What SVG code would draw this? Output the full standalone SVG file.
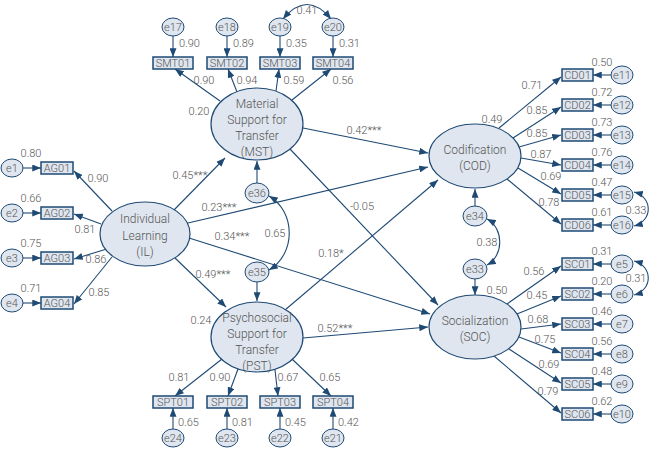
<svg xmlns="http://www.w3.org/2000/svg" width="650" height="450" viewBox="0 0 650 450">
<defs>
<marker id="ah" viewBox="0 0 10 8" refX="10" refY="4" markerWidth="9" markerHeight="7" markerUnits="userSpaceOnUse" orient="auto-start-reverse">
<path d="M0,0 L10,4 L0,8 z" fill="#1f4a74"/>
</marker>
<style>
.lat{fill:#dfe6ef;stroke:#1f4a74;stroke-width:1.2}
.err{fill:#dfe6ef;stroke:#1f4a74;stroke-width:1}
.box{fill:#dfe6ef;stroke:#1f4a74;stroke-width:1.5}
.t{font-family:Roboto,"Liberation Sans",sans-serif;font-size:11px;fill:#555;text-anchor:middle;font-weight:300}
.tl{font-family:Roboto,"Liberation Sans",sans-serif;font-size:12px;fill:#555;text-anchor:middle;font-weight:300}
.ts{font-family:Roboto,"Liberation Sans",sans-serif;font-size:11px;fill:#555;text-anchor:start;font-weight:300}
.c line,.c path{stroke:#1f4a74;stroke-width:1.1;fill:none;marker-end:url(#ah)}
.c path.cov{marker-start:url(#ah)}
</style>
</defs>
<rect width="650" height="450" fill="#fff"/>

<g id="connectors" class="c">
<!-- e -> AG -->
<line x1="23" y1="168" x2="41" y2="168"/>
<line x1="23" y1="213" x2="41" y2="213"/>
<line x1="23" y1="258" x2="41" y2="258"/>
<line x1="23" y1="303" x2="41" y2="303"/>
<!-- IL -> AG -->
<line x1="112" y1="211" x2="74" y2="171"/>
<line x1="101" y1="224" x2="74" y2="214"/>
<line x1="110" y1="248" x2="74" y2="259"/>
<line x1="112" y1="257" x2="74" y2="304"/>
<!-- e -> SMT -->
<line x1="173" y1="36" x2="173" y2="57"/>
<line x1="227" y1="36" x2="227" y2="57"/>
<line x1="280" y1="36" x2="280" y2="57"/>
<line x1="333" y1="36" x2="333" y2="57"/>
<!-- MST -> SMT -->
<line x1="220" y1="101" x2="175" y2="69"/>
<line x1="237" y1="92" x2="228" y2="69"/>
<line x1="276" y1="91" x2="279" y2="69"/>
<line x1="292" y1="100" x2="331" y2="69"/>
<path class="cov" d="M283,19 Q307,-10 331,19"/>
<!-- e -> SPT -->
<line x1="173" y1="429" x2="173" y2="408"/>
<line x1="227" y1="429" x2="227" y2="408"/>
<line x1="280" y1="429" x2="280" y2="408"/>
<line x1="333" y1="429" x2="333" y2="408"/>
<!-- PST -> SPT -->
<line x1="222" y1="359" x2="175" y2="396"/>
<line x1="238" y1="369" x2="228" y2="396"/>
<line x1="275" y1="370" x2="278" y2="396"/>
<line x1="292" y1="359" x2="331" y2="396"/>
<!-- e -> CD -->
<line x1="611" y1="75" x2="593" y2="75"/>
<line x1="611" y1="105" x2="593" y2="105"/>
<line x1="611" y1="135" x2="593" y2="135"/>
<line x1="611" y1="165" x2="593" y2="165"/>
<line x1="611" y1="195" x2="593" y2="195"/>
<line x1="611" y1="225" x2="593" y2="225"/>
<!-- COD -> CD -->
<line x1="499" y1="128" x2="561" y2="77"/>
<line x1="513" y1="138" x2="561" y2="107"/>
<line x1="519" y1="147" x2="561" y2="135"/>
<line x1="521" y1="158" x2="561" y2="165"/>
<line x1="518" y1="168" x2="561" y2="194"/>
<line x1="507" y1="179" x2="561" y2="224"/>
<path class="cov" d="M634,192 C653,197 653,221 634,226"/>
<!-- e -> SC -->
<line x1="611" y1="264" x2="593" y2="264"/>
<line x1="611" y1="294" x2="593" y2="294"/>
<line x1="611" y1="324" x2="593" y2="324"/>
<line x1="611" y1="354" x2="593" y2="354"/>
<line x1="611" y1="384" x2="593" y2="384"/>
<line x1="611" y1="414" x2="593" y2="414"/>
<!-- SOC -> SC -->
<line x1="507" y1="304" x2="561" y2="266"/>
<line x1="517" y1="314" x2="561" y2="296"/>
<line x1="521" y1="329" x2="561" y2="324"/>
<line x1="519" y1="337" x2="561" y2="353"/>
<line x1="509" y1="349" x2="561" y2="383"/>
<line x1="494" y1="356" x2="561" y2="413"/>
<path class="cov" d="M634,261 C653,266 653,290 634,295"/>
<!-- disturbances -->
<line x1="475" y1="206" x2="475" y2="189"/>
<line x1="475" y1="279" x2="475" y2="295"/>
<path class="cov" d="M487,219 C504,228 504,256 487,265"/>
<line x1="257" y1="183" x2="257" y2="161"/>
<line x1="257" y1="282" x2="257" y2="301"/>
<path class="cov" d="M269,196 C296,212 296,254 269,270"/>
<!-- structural -->
<line x1="173" y1="211" x2="225" y2="158"/>
<line x1="188" y1="223" x2="428" y2="167"/>
<line x1="189" y1="238" x2="430" y2="314"/>
<line x1="175" y1="258" x2="226" y2="307"/>
<line x1="303" y1="128" x2="428" y2="153"/>
<line x1="290" y1="149" x2="438" y2="305"/>
<line x1="285" y1="310" x2="438" y2="180"/>
<line x1="303" y1="338" x2="428" y2="327"/>
</g>

<g id="labels">
<text class="t" x="31" y="157">0.80</text>
<text class="t" x="31" y="202">0.66</text>
<text class="t" x="31" y="247">0.75</text>
<text class="t" x="31" y="292">0.71</text>
<text class="t" x="98" y="182">0.90</text>
<text class="t" x="85" y="233">0.81</text>
<text class="t" x="96" y="263">0.86</text>
<text class="t" x="99" y="296">0.85</text>
<text class="ts" x="179" y="47">0.90</text>
<text class="ts" x="233" y="47">0.89</text>
<text class="ts" x="286" y="47">0.35</text>
<text class="ts" x="339" y="47">0.31</text>
<text class="t" x="204" y="84">0.90</text>
<text class="t" x="247" y="84">0.94</text>
<text class="t" x="294" y="84">0.59</text>
<text class="t" x="343" y="84">0.56</text>
<text class="t" x="199" y="115">0.20</text>
<text class="t" x="307" y="14">0.41</text>
<text class="ts" x="178" y="426">0.65</text>
<text class="ts" x="232" y="426">0.81</text>
<text class="ts" x="285" y="426">0.45</text>
<text class="ts" x="338" y="426">0.42</text>
<text class="t" x="179" y="381">0.81</text>
<text class="t" x="220" y="381">0.90</text>
<text class="t" x="288" y="381">0.67</text>
<text class="t" x="330" y="381">0.65</text>
<text class="t" x="201" y="324">0.24</text>
<text class="t" x="602" y="66">0.50</text>
<text class="t" x="602" y="96">0.72</text>
<text class="t" x="602" y="126">0.73</text>
<text class="t" x="602" y="156">0.76</text>
<text class="t" x="602" y="186">0.47</text>
<text class="t" x="602" y="216">0.61</text>
<text class="t" x="532" y="89">0.71</text>
<text class="t" x="537" y="114">0.85</text>
<text class="t" x="537" y="137">0.85</text>
<text class="t" x="541" y="158">0.87</text>
<text class="t" x="551" y="180">0.69</text>
<text class="t" x="549" y="206">0.78</text>
<text class="t" x="492" y="123">0.49</text>
<text class="t" x="636" y="214">0.33</text>
<text class="t" x="602" y="255">0.31</text>
<text class="t" x="602" y="285">0.20</text>
<text class="t" x="602" y="315">0.46</text>
<text class="t" x="602" y="345">0.56</text>
<text class="t" x="602" y="375">0.48</text>
<text class="t" x="602" y="405">0.62</text>
<text class="t" x="534" y="275">0.56</text>
<text class="t" x="537" y="299">0.45</text>
<text class="t" x="538" y="323">0.68</text>
<text class="t" x="545" y="343">0.75</text>
<text class="t" x="549" y="368">0.69</text>
<text class="t" x="548" y="395">0.79</text>
<text class="t" x="636" y="282">0.31</text>
<text class="t" x="497" y="294">0.50</text>
<text class="t" x="487" y="246">0.38</text>
<text class="t" x="275" y="237">0.65</text>
<text class="t" x="190" y="179">0.45***</text>
<text class="t" x="219" y="211">0.23***</text>
<text class="t" x="232" y="240">0.34***</text>
<text class="t" x="213" y="278">0.49***</text>
<text class="t" x="364" y="134">0.42***</text>
<text class="t" x="362" y="210">-0.05</text>
<text class="t" x="331" y="257">0.18*</text>
<text class="t" x="335" y="332">0.52***</text>
</g>

<g id="IL"><ellipse class="lat" cx="145" cy="234" rx="45" ry="32"/>
<text class="tl" x="145" y="223">Individual</text><text class="tl" x="145" y="240">Learning</text><text class="tl" x="145" y="256">(IL)</text></g>
<g id="MST"><ellipse class="lat" cx="257" cy="124" rx="46" ry="36"/>
<text class="tl" x="257" y="108">Material</text><text class="tl" x="257" y="124">Support for</text><text class="tl" x="257" y="140">Transfer</text><text class="tl" x="257" y="156">(MST)</text></g>
<g id="PST"><ellipse class="lat" cx="257" cy="337" rx="46" ry="35"/>
<text class="tl" x="257" y="322">Psychosocial</text><text class="tl" x="257" y="338">Support for</text><text class="tl" x="257" y="354">Transfer</text><text class="tl" x="257" y="370">(PST)</text></g>
<g id="COD"><ellipse class="lat" cx="475" cy="156" rx="46" ry="32"/>
<text class="tl" x="475" y="154">Codification</text><text class="tl" x="475" y="170">(COD)</text></g>
<g id="SOC"><ellipse class="lat" cx="475" cy="327" rx="46" ry="32"/>
<text class="tl" x="475" y="325">Socialization</text><text class="tl" x="475" y="341">(SOC)</text></g>

<g id="e36"><ellipse class="err" cx="257" cy="193" rx="12" ry="10"/><text class="t" x="257" y="197">e36</text></g>
<g id="e35"><ellipse class="err" cx="257" cy="272" rx="12" ry="10"/><text class="t" x="257" y="276">e35</text></g>
<g id="e34"><ellipse class="err" cx="475" cy="216" rx="12" ry="10"/><text class="t" x="475" y="220">e34</text></g>
<g id="e33"><ellipse class="err" cx="475" cy="269" rx="12" ry="10"/><text class="t" x="475" y="273">e33</text></g>

<g id="AG01"><rect class="box" x="41" y="162" width="32" height="12"/><text class="t" x="57" y="172">AG01</text></g>
<g id="AG02"><rect class="box" x="41" y="207" width="32" height="12"/><text class="t" x="57" y="217">AG02</text></g>
<g id="AG03"><rect class="box" x="41" y="252" width="32" height="12"/><text class="t" x="57" y="262">AG03</text></g>
<g id="AG04"><rect class="box" x="41" y="297" width="32" height="12"/><text class="t" x="57" y="307">AG04</text></g>
<g id="e1"><ellipse class="err" cx="12" cy="168" rx="11" ry="9"/><text class="t" x="12" y="172">e1</text></g>
<g id="e2"><ellipse class="err" cx="12" cy="213" rx="11" ry="9"/><text class="t" x="12" y="217">e2</text></g>
<g id="e3"><ellipse class="err" cx="12" cy="258" rx="11" ry="9"/><text class="t" x="12" y="262">e3</text></g>
<g id="e4"><ellipse class="err" cx="12" cy="303" rx="11" ry="9"/><text class="t" x="12" y="307">e4</text></g>

<g id="SMT01"><rect class="box" x="153" y="57" width="40" height="12"/><text class="t" x="173" y="67">SMT01</text></g>
<g id="SMT02"><rect class="box" x="207" y="57" width="40" height="12"/><text class="t" x="227" y="67">SMT02</text></g>
<g id="SMT03"><rect class="box" x="260" y="57" width="40" height="12"/><text class="t" x="280" y="67">SMT03</text></g>
<g id="SMT04"><rect class="box" x="313" y="57" width="40" height="12"/><text class="t" x="333" y="67">SMT04</text></g>
<g id="e17"><ellipse class="err" cx="173" cy="27" rx="11" ry="9"/><text class="t" x="173" y="31">e17</text></g>
<g id="e18"><ellipse class="err" cx="227" cy="27" rx="11" ry="9"/><text class="t" x="227" y="31">e18</text></g>
<g id="e19"><ellipse class="err" cx="280" cy="27" rx="11" ry="9"/><text class="t" x="280" y="31">e19</text></g>
<g id="e20"><ellipse class="err" cx="333" cy="27" rx="11" ry="9"/><text class="t" x="333" y="31">e20</text></g>

<g id="SPT01"><rect class="box" x="153" y="396" width="40" height="12"/><text class="t" x="173" y="406">SPT01</text></g>
<g id="SPT02"><rect class="box" x="207" y="396" width="40" height="12"/><text class="t" x="227" y="406">SPT02</text></g>
<g id="SPT03"><rect class="box" x="260" y="396" width="40" height="12"/><text class="t" x="280" y="406">SPT03</text></g>
<g id="SPT04"><rect class="box" x="313" y="396" width="40" height="12"/><text class="t" x="333" y="406">SPT04</text></g>
<g id="e24"><ellipse class="err" cx="173" cy="438" rx="11" ry="9"/><text class="t" x="173" y="442">e24</text></g>
<g id="e23"><ellipse class="err" cx="227" cy="438" rx="11" ry="9"/><text class="t" x="227" y="442">e23</text></g>
<g id="e22"><ellipse class="err" cx="280" cy="438" rx="11" ry="9"/><text class="t" x="280" y="442">e22</text></g>
<g id="e21"><ellipse class="err" cx="333" cy="438" rx="11" ry="9"/><text class="t" x="333" y="442">e21</text></g>

<g id="CD01"><rect class="box" x="562" y="69" width="31" height="12"/><text class="t" x="577.5" y="79">CD01</text></g>
<g id="CD02"><rect class="box" x="562" y="99" width="31" height="12"/><text class="t" x="577.5" y="109">CD02</text></g>
<g id="CD03"><rect class="box" x="562" y="129" width="31" height="12"/><text class="t" x="577.5" y="139">CD03</text></g>
<g id="CD04"><rect class="box" x="562" y="159" width="31" height="12"/><text class="t" x="577.5" y="169">CD04</text></g>
<g id="CD05"><rect class="box" x="562" y="189" width="31" height="12"/><text class="t" x="577.5" y="199">CD05</text></g>
<g id="CD06"><rect class="box" x="562" y="219" width="31" height="12"/><text class="t" x="577.5" y="229">CD06</text></g>
<g id="e11"><ellipse class="err" cx="622" cy="75" rx="11" ry="9"/><text class="t" x="622" y="79">e11</text></g>
<g id="e12"><ellipse class="err" cx="622" cy="105" rx="11" ry="9"/><text class="t" x="622" y="109">e12</text></g>
<g id="e13"><ellipse class="err" cx="622" cy="135" rx="11" ry="9"/><text class="t" x="622" y="139">e13</text></g>
<g id="e14"><ellipse class="err" cx="622" cy="165" rx="11" ry="9"/><text class="t" x="622" y="169">e14</text></g>
<g id="e15"><ellipse class="err" cx="622" cy="195" rx="11" ry="9"/><text class="t" x="622" y="199">e15</text></g>
<g id="e16"><ellipse class="err" cx="622" cy="225" rx="11" ry="9"/><text class="t" x="622" y="229">e16</text></g>

<g id="SC01"><rect class="box" x="562" y="258" width="31" height="12"/><text class="t" x="577.5" y="268">SC01</text></g>
<g id="SC02"><rect class="box" x="562" y="288" width="31" height="12"/><text class="t" x="577.5" y="298">SC02</text></g>
<g id="SC03"><rect class="box" x="562" y="318" width="31" height="12"/><text class="t" x="577.5" y="328">SC03</text></g>
<g id="SC04"><rect class="box" x="562" y="348" width="31" height="12"/><text class="t" x="577.5" y="358">SC04</text></g>
<g id="SC05"><rect class="box" x="562" y="378" width="31" height="12"/><text class="t" x="577.5" y="388">SC05</text></g>
<g id="SC06"><rect class="box" x="562" y="408" width="31" height="12"/><text class="t" x="577.5" y="418">SC06</text></g>
<g id="e5"><ellipse class="err" cx="622" cy="264" rx="11" ry="9"/><text class="t" x="622" y="268">e5</text></g>
<g id="e6"><ellipse class="err" cx="622" cy="294" rx="11" ry="9"/><text class="t" x="622" y="298">e6</text></g>
<g id="e7"><ellipse class="err" cx="622" cy="324" rx="11" ry="9"/><text class="t" x="622" y="328">e7</text></g>
<g id="e8"><ellipse class="err" cx="622" cy="354" rx="11" ry="9"/><text class="t" x="622" y="358">e8</text></g>
<g id="e9"><ellipse class="err" cx="622" cy="384" rx="11" ry="9"/><text class="t" x="622" y="388">e9</text></g>
<g id="e10"><ellipse class="err" cx="622" cy="414" rx="11" ry="9"/><text class="t" x="622" y="418">e10</text></g>
</svg>
